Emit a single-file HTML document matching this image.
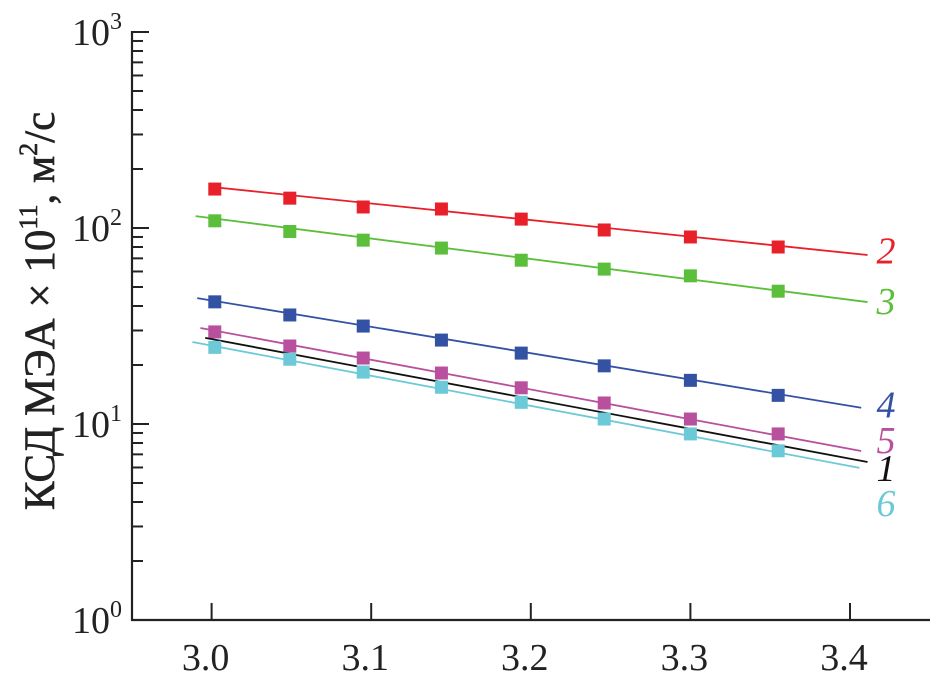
<!DOCTYPE html>
<html><head><meta charset="utf-8"><style>
body{margin:0;background:#fff}
svg{display:block;font-family:"Liberation Serif","Times New Roman",serif}
</style></head><body>
<svg id="c" width="930" height="681">
<g id="axes"></g>
<g id="plot"></g>
<text transform="translate(54,311) rotate(-90)" text-anchor="middle" font-size="43" fill="#222" stroke="#222" stroke-width="0.6">КСД МЭА × 10<tspan font-size="26" dy="-17">11</tspan><tspan dy="17">, м</tspan><tspan font-size="26" dy="-17">2</tspan><tspan dy="17">/с</tspan></text>
</svg>
<script>
const xTicks=[3.0,3.1,3.2,3.3,3.4];
const xTickLabels=["3.0","3.1","3.2","3.3","3.4"];
const yDecades=[0,1,2,3];
const seriesNames=["2","3","4","5","1","6"];
const seriesColors=["#e8202a","#5cbf3c","#3452a4","#b8509e","#111111","#6ccad8"];
const pointX=[3.002,3.049,3.095,3.144,3.194,3.246,3.300,3.355];
const yRed=[158,142,128,125,111,97.7,90,80];
const yGreen=[108.8,96,86.7,79,68.5,61.7,57,47.6];
const yBlue=[42,36,31.6,26.8,23,19.8,16.7,14];
const yMagenta=[29.5,25,21.7,18.2,15.3,12.8,10.6,8.9];
const yBlack=[];
const yCyan=[24.6,21.4,18.4,15.4,12.9,10.6,8.9,7.3];
const lineStartX=[2.998,2.990,2.991,2.993,2.996,2.988];
const lineEndX=[3.411,3.411,3.407,3.407,3.411,3.406];
const lineStartY=[162.6,115,43.9,30.9,27.5,26.2];
const lineEndY=[72.8,41.9,12.1,7.28,6.4,5.97];
const labelY=[76,42,12.4,8.2,5.9,3.9];

const NS="http://www.w3.org/2000/svg";
const X0=132,YB=620,DEC=196;
function sx(x){return 211.6+(x-3.0)*1596;}
function sy(v){return YB-Math.log10(v)*DEC;}
function mk(p,tag,attrs){const e=document.createElementNS(NS,tag);for(const k in attrs)e.setAttribute(k,attrs[k]);p.appendChild(e);return e;}
const axes=document.getElementById('axes'),plot=document.getElementById('plot');
let e;
e=mk(axes,'line',{x1:X0,y1:31,x2:X0,y2:YB+1,stroke:'#222','stroke-width':2.2});


e=mk(axes,'line',{x1:X0-1,y1:YB,x2:930,y2:YB,stroke:'#222','stroke-width':2.2});


xTicks.forEach((t,i)=>{
  e=mk(axes,'line',{x1:sx(t),y1:YB,x2:sx(t),y2:YB-17,stroke:'#222','stroke-width':2});
  
  
  e=mk(axes,'text',{x:sx(t)-6,y:670,'text-anchor':'middle','font-size':38,fill:'#222'});
  e.textContent=xTickLabels[i];
  
  
});
yDecades.forEach(d=>{
  const y=YB-d*DEC;
  e=mk(axes,'line',{x1:X0,y1:y,x2:X0+17,y2:y,stroke:'#222','stroke-width':2});
  
  
  e=mk(axes,'text',{x:122,y:y+13,'text-anchor':'end','font-size':38,fill:'#222'});
  e.innerHTML='10<tspan font-size="24" dy="-16">'+d+'</tspan>';
  
  
  if(d<3)for(let m=2;m<=9;m++){
    const yy=sy(m*Math.pow(10,d));
    e=mk(axes,'line',{x1:X0,y1:yy,x2:X0+11,y2:yy,stroke:'#222','stroke-width':2});
    
    
  }
});
const ys=[yRed,yGreen,yBlue,yMagenta,yBlack,yCyan];
ys.forEach((arr,i)=>{
  const c=seriesColors[i];
  e=mk(plot,'line',{x1:sx(lineStartX[i]),y1:sy(lineStartY[i]),x2:sx(lineEndX[i]),y2:sy(lineEndY[i]),stroke:c,'stroke-width':1.8});
  
  
  arr.forEach((v,j)=>{
    e=mk(plot,'rect',{x:sx(pointX[j])-6.5,y:sy(v)-6.5,width:13,height:13,fill:c});
    
    
  });
  e=mk(plot,'text',{x:886,y:sy(labelY[i])+12,'text-anchor':'middle','font-size':38,'font-style':'italic',fill:c});
  e.textContent=seriesNames[i];
  
  
});
</script>
</body></html>
